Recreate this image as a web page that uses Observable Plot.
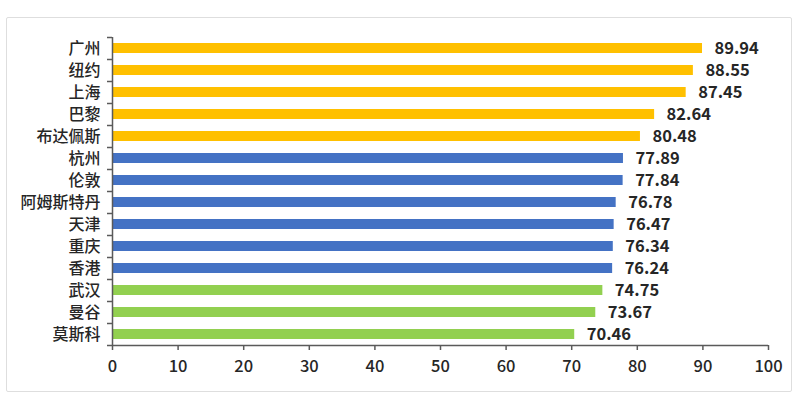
<!DOCTYPE html>
<html><head><meta charset="utf-8">
<script src="https://cdn.jsdelivr.net/npm/d3@7"></script>
<script src="https://cdn.jsdelivr.net/npm/@observablehq/plot@0.6"></script>
<style>
html,body{margin:0;padding:0;background:#fff;}
#wrap{position:relative;width:800px;height:404px;overflow:hidden;}
#box{position:absolute;left:6px;top:17px;width:786px;height:375px;border:1.5px solid #dedede;border-radius:2px;box-sizing:border-box;}
#chart{position:absolute;left:0;top:0;}
</style></head><body>
<div id="wrap"><div id="box"></div><div id="chart"></div></div>
<script>
const cities = ["广州","纽约","上海","巴黎","布达佩斯","杭州","伦敦","阿姆斯特丹","天津","重庆","香港","武汉","曼谷","莫斯科"];
const scores = [89.94,88.55,87.45,82.64,80.48,77.89,77.84,76.78,76.47,76.34,76.24,74.75,73.67,70.46];
const groups = ["high","high","high","high","high","mid","mid","mid","mid","mid","mid","low","low","low"];
const groupKeys = ["high","mid","low"];
const groupColors = ["#FFC000","#4472C4","#92D050"];
const xTicks = [0,10,20,30,40,50,60,70,80,90,100];

const data = cities.map((c,i)=>({city:c, score:scores[i], group:groups[i]}));
const axisColor = "#5a5a5a";
const font = "'Noto Sans CJK SC','Noto Sans',sans-serif";
const halfStep = 11;

const chart = Plot.plot({
  width: 800, height: 404,
  marginLeft: 112, marginRight: 32, marginTop: 37, marginBottom: 59,
  style: {fontFamily: font, fontSize: "16px", color: "#262626", background: "transparent"},
  x: {domain: [0,100], ticks: xTicks, label: null},
  y: {domain: cities, paddingInner: 0.55, paddingOuter: 0.275, label: null},
  color: {domain: groupKeys, range: groupColors},
  marks: [
    Plot.barX(data, {y: "city", x: "score", fill: "group"}),
    Plot.text(data, {y: "city", x: "score", text: d => d.score.toFixed(2), textAnchor: "start", dx: 12, fontWeight: "bold", fontSize: 16.5, fill: "#262626"}),
    Plot.ruleX([0], {stroke: axisColor, strokeWidth: 1.5}),
    Plot.ruleY(cities, {y: d => d, x1: 0, x2: 0, insetLeft: -5, dy: -halfStep, stroke: axisColor, strokeWidth: 1.5}),
    Plot.ruleY([cities[cities.length-1]], {y: d => d, x1: 0, x2: 100, insetLeft: -5, dy: halfStep, stroke: axisColor, strokeWidth: 1.5}),
    Plot.axisX({ticks: xTicks, tickSize: 5, tickPadding: 10, stroke: axisColor, strokeWidth: 1.5, fill: "#262626", fontSize: 16.5, fontWeight: 500, label: null, anchor: "bottom"}),
    Plot.axisY({tickSize: 0, tickPadding: 12, fontSize: 16, fontWeight: 500, fill: "#262626", label: null})
  ]
});
document.getElementById("chart").appendChild(chart);
</script>
</body></html>
